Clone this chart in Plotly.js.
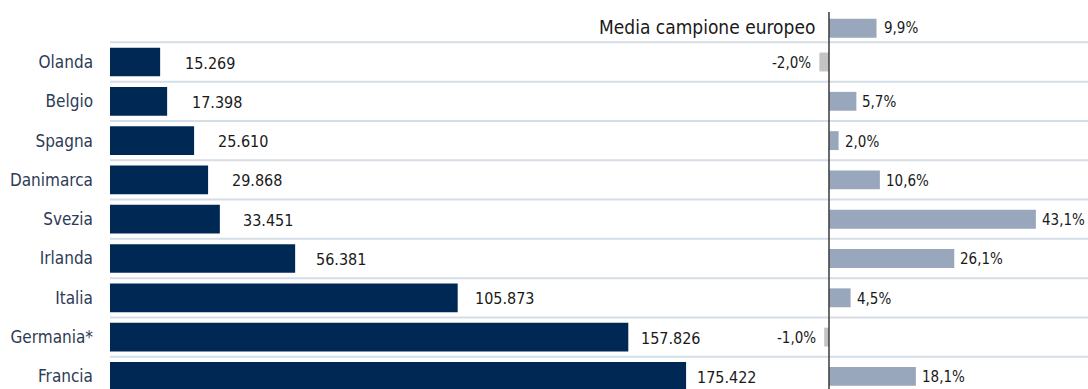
<!DOCTYPE html>
<html>
<head>
<meta charset="utf-8">
<script src="https://cdn.plot.ly/plotly-3.0.1.min.js"></script>
<style>html,body{margin:0;padding:0;background:#fff;}#chart{width:1088px;height:389px;}</style>
</head>
<body>
<div id="chart"></div>
<script>
// ---- data ----
const countries = ["Olanda","Belgio","Spagna","Danimarca","Svezia","Irlanda","Italia","Germania*","Francia"];
const values = [15269, 17398, 25610, 29868, 33451, 56381, 105873, 157826, 175422];
const changes = [-2.0, 5.7, 2.0, 10.6, 43.1, 26.1, 4.5, -1.0, 18.1];
const avgLabel = "Media campione europeo";
const avgChange = 9.9;

// ---- helpers ----
function fmtInt(v){ return String(Math.round(v)).replace(/\B(?=(\d{3})+(?!\d))/g, "."); }
function fmtPct(v){ return v.toFixed(1).replace(".", ",") + "%"; }

const FONT = "'DejaVu Sans Condensed', 'Liberation Sans Narrow', 'Liberation Sans', Arial, sans-serif";
const allCats = [avgLabel].concat(countries);

const traces = [
  { type: "bar", orientation: "h", y: countries, x: values, xaxis: "x", yaxis: "y",
    marker: { color: "#002855" }, width: 0.73, hoverinfo: "skip", showlegend: false },
  { type: "bar", orientation: "h", y: countries, x: changes, xaxis: "x2", yaxis: "y",
    marker: { color: changes.map(v => v < 0 ? "#C3C3C3" : "#98A7BB") }, width: 0.48,
    hoverinfo: "skip", showlegend: false },
  { type: "bar", orientation: "h", y: [avgLabel], x: [avgChange], xaxis: "x2", yaxis: "y",
    marker: { color: "#98A7BB" }, width: 0.48, offset: -0.1, hoverinfo: "skip", showlegend: false }
];

const valFont = { family: FONT, size: 16, color: "#1a1a1a" };
const pctFont = { family: FONT, size: 15, color: "#1a1a1a" };
const annotations = [];
countries.forEach((c, i) => {
  // value labels use a label axis (x3) sharing the left bar domain
  annotations.push({ xref: "x3", yref: "y", x: values[i], y: c, text: fmtInt(values[i]),
    xanchor: "left", yshift: -1, showarrow: false, font: valFont });
  const neg = changes[i] < 0;
  annotations.push({ xref: "x2", yref: "y", x: changes[i], y: c, text: fmtPct(changes[i]),
    xanchor: neg ? "right" : "left", xshift: neg ? -6 : 4, yshift: -1, showarrow: false, font: pctFont });
});
annotations.push({ xref: "x2", yref: "y", x: avgChange, y: avgLabel, text: fmtPct(avgChange),
  xanchor: "left", xshift: 5, yshift: -5, showarrow: false, font: pctFont });
annotations.push({ xref: "x2", yref: "y", x: 0, y: avgLabel, text: avgLabel,
  xanchor: "right", xshift: -12, yshift: -4, showarrow: false, font: { family: FONT, size: 19, color: "#1a1a1a" } });

const shapes = [];
for (let k = 0; k < countries.length; k++) {
  shapes.push({ type: "line", xref: "paper", yref: "y", x0: 110/1088, x1: 1, y0: k + 0.5, y1: k + 0.5,
    line: { color: "#D5DDE6", width: 2 }, layer: "below" });
}
shapes.push({ type: "line", xref: "x2", yref: "paper", x0: 0, x1: 0, y0: 0, y1: (389-12)/389,
  line: { color: "#3a3a3a", width: 1.5 }, layer: "above" });

const layout = {
  width: 1088, height: 389,
  margin: { l: 0, r: 0, t: 0, b: 0, pad: 0 },
  paper_bgcolor: "#ffffff", plot_bgcolor: "rgba(0,0,0,0)",
  font: { family: FONT, size: 17, color: "#2E3B55" },
  showlegend: false,
  xaxis: { domain: [110/1088, 800/1088], range: [0, 210110], visible: false, fixedrange: true },
  xaxis2: { domain: [800/1088, 1], range: [-6.04, 53.96], visible: false, fixedrange: true },
  xaxis3: { domain: [110/1088, 800/1088], range: [-7500, 208125], visible: false, fixedrange: true, anchor: "y", overlaying: "x" },
  yaxis: { type: "category", categoryarray: allCats, range: [9.321, -0.578],
    tickvals: countries, ticktext: countries, showgrid: false, zeroline: false, showline: false,
    ticks: "", ticklabelstandoff: 16, tickfont: { family: FONT, size: 17, color: "#2E3B55" },
    anchor: "x", fixedrange: true },
  shapes: shapes,
  annotations: annotations
};

Plotly.newPlot("chart", traces, layout, { displayModeBar: false, staticPlot: true });
</script>
</body>
</html>
